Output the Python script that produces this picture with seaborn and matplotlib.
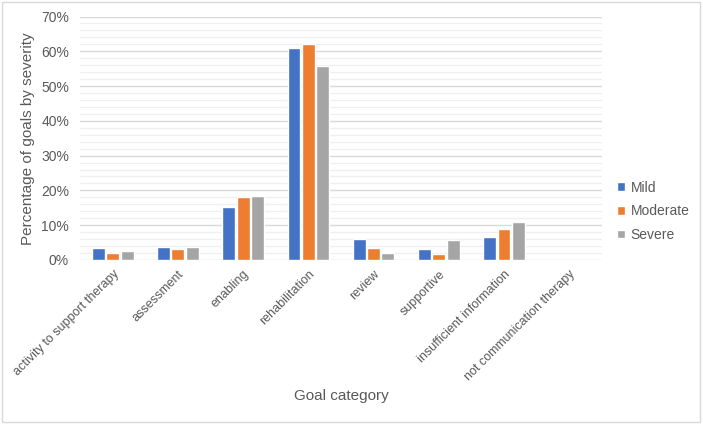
import pandas as pd
import seaborn as sns
import matplotlib
import matplotlib.pyplot as plt
from matplotlib.patches import Rectangle
from matplotlib.ticker import MultipleLocator, PercentFormatter

matplotlib.use("Agg")

categories = [
  "activity to support therapy",
  "assessment",
  "enabling",
  "rehabilitation",
  "review",
  "supportive",
  "insufficient information",
  "not communication therapy",
]
severities = ["Mild", "Moderate", "Severe"]
mild = [3.4, 3.7, 15.3, 60.9, 6.1, 3.0, 6.5, 0.1]
moderate = [2.1, 3.0, 18.1, 62.1, 3.4, 1.7, 8.9, 0.0]
severe = [2.6, 3.7, 18.5, 55.7, 2.1, 5.8, 10.9, 0.0]
colours = ["#4472C4", "#ED7D31", "#A5A5A5"]

df = pd.DataFrame({"category": categories, "Mild": mild, "Moderate": moderate, "Severe": severe})
df = df.melt(id_vars="category", var_name="severity", value_name="pct")

sns.set_theme(style="white")
plt.rcParams["font.family"] = ["Liberation Sans", "DejaVu Sans"]

fig = plt.figure(figsize=(7.03, 4.24), dpi=100)
ax = fig.add_axes([0.114, 0.387, 0.742, 0.574])

sns.barplot(
  data=df,
  x="category",
  y="pct",
  hue="severity",
  hue_order=severities,
  order=categories,
  palette=colours,
  width=0.66,
  gap=0.1,
  saturation=1,
  ax=ax,
)

ax.set_ylim(0, 70)
ax.yaxis.set_major_locator(MultipleLocator(10))
ax.yaxis.set_minor_locator(MultipleLocator(2))
ax.yaxis.set_major_formatter(PercentFormatter(decimals=0))
ax.grid(axis="y", which="major", color="#D9D9D9", linewidth=1.0)
ax.grid(axis="y", which="minor", color="#EFEFEF", linewidth=0.9)
ax.set_axisbelow(True)
for s in ax.spines.values():
  s.set_visible(False)
ax.tick_params(axis="y", which="both", length=0, colors="#595959", labelsize=10, pad=8)
ax.tick_params(axis="x", which="both", length=0, colors="#595959", labelsize=9, pad=6)
plt.setp(ax.get_xticklabels(), rotation=45, ha="right", rotation_mode="anchor")

ax.set_xlabel("Goal category", color="#595959", fontsize=11)
ax.xaxis.set_label_coords(0.5, -0.53)
ax.set_ylabel("Percentage of goals by severity", color="#595959", fontsize=11, labelpad=4)

leg = ax.legend(
  loc="center left",
  bbox_to_anchor=(1.005, 0.20),
  frameon=False,
  fontsize=10,
  handlelength=0.6,
  handleheight=0.6,
  handletextpad=0.4,
  labelspacing=0.7,
)
for t in leg.get_texts():
  t.set_color("#595959")

fig.patches.append(
  Rectangle((0.003, 0.004), 0.993, 0.991, transform=fig.transFigure, fill=False, edgecolor="#D9D9D9", linewidth=1.0)
)

plt.savefig("out.png", dpi=100)
